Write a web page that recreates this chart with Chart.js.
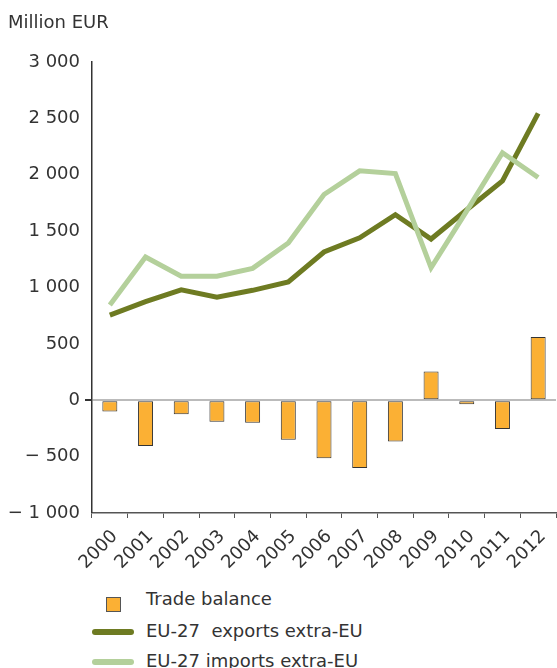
<!DOCTYPE html>
<html>
<head>
<meta charset="utf-8">
<script src="https://cdn.jsdelivr.net/npm/chart.js@4"></script>
<style>
  body { margin: 0; background: #fff; font-family: Verdana, "DejaVu Sans", sans-serif; color: #333; }
  #wrap { position: relative; width: 557px; height: 668px; overflow: hidden; }
  #unit { position: absolute; left: 8px; top: 12px; font-size: 18px; line-height: 20px; }
  .item { position: absolute; left: 146px; font-size: 18px; line-height: 20px; white-space: pre; }
  .swatch { position: absolute; }
</style>
</head>
<body>
<div id="wrap">
  <canvas id="chart" width="557" height="580"></canvas>
  <div id="unit">Million EUR</div>
  <div id="legend"></div>
</div>
<script>
const years = ['2000', '2001', '2002', '2003', '2004', '2005', '2006', '2007', '2008', '2009', '2010', '2011', '2012'];
const tradeBalance = [-100, -405, -125, -190, -200, -350, -515, -600, -365, 255, -35, -255, 560];
const exportsExtraEU = [755, 875, 980, 915, 975, 1050, 1315, 1440, 1645, 1430, 1690, 1945, 2545];
const importsExtraEU = [845, 1270, 1100, 1100, 1170, 1395, 1825, 2035, 2010, 1175, 1680, 2195, 1975];

const labels = ['Trade balance', 'EU-27  exports extra-EU', 'EU-27 imports extra-EU'];
const colors = ['#fbb034', '#6e7b22', '#b4d09b'];
const tickFont = { family: 'Verdana, "DejaVu Sans"', size: 18 };

function fmt(v) {
  const s = Math.abs(v).toString().replace(/\B(?=(\d{3})+(?!\d))/g, ' ');
  return v < 0 ? '\u2212 ' + s : s;
}

new Chart('chart', {
  type: 'bar',
  data: {
    labels: years,
    datasets: [
      {
        type: 'line',
        label: labels[2],
        data: importsExtraEU,
        borderColor: colors[2],
        borderWidth: 5,
        pointRadius: 0,
        tension: 0,
        order: 1
      },
      {
        type: 'line',
        label: labels[1],
        data: exportsExtraEU,
        borderColor: colors[1],
        borderWidth: 5,
        pointRadius: 0,
        tension: 0,
        order: 2
      },
      {
        label: labels[0],
        data: tradeBalance,
        backgroundColor: colors[0],
        borderColor: '#333',
        borderWidth: 1,
        borderSkipped: false,
        barPercentage: 0.42,
        categoryPercentage: 1,
        order: 3
      }
    ]
  },
  options: {
    responsive: false,
    animation: false,
    layout: { padding: { top: 62, right: 1, left: 0, bottom: 0 } },
    plugins: { legend: { display: false }, tooltip: { enabled: false } },
    scales: {
      x: {
        offset: true,
        afterFit: s => { s.height = 67; s.paddingLeft = 0; s.paddingRight = 0; },
        grid: { drawOnChartArea: false, tickColor: '#555', tickLength: 5, offset: true },
        border: { color: '#555', width: 1.5 },
        ticks: { maxRotation: 45, minRotation: 45, autoSkip: false, color: '#333', font: tickFont, padding: 8, labelOffset: 5 }
      },
      y: {
        min: -1000,
        max: 3000,
        afterFit: s => { s.width = 92; },
        ticks: { stepSize: 500, color: '#333', font: tickFont, padding: 5, callback: v => fmt(v) },
        grid: {
          color: ctx => ctx.tick && ctx.tick.value === 0 ? '#bbb' : 'transparent',
          lineWidth: ctx => ctx.tick && ctx.tick.value === 0 ? 2 : 0,
          tickColor: '#333',
          tickLength: 7
        },
        border: { color: '#333', width: 1.5 }
      }
    }
  }
});

// legend, stacked below the chart
document.getElementById('legend').innerHTML =
  '<div class="swatch" style="left:106px;top:597px;width:13px;height:13px;background:' + colors[0] + ';border:1px solid #555"></div>' +
  '<div class="item" style="top:589px">' + labels[0] + '</div>' +
  '<div class="swatch" style="left:92px;top:629px;width:42px;height:6px;border-radius:3px;background:' + colors[1] + '"></div>' +
  '<div class="item" style="top:621px">' + labels[1] + '</div>' +
  '<div class="swatch" style="left:92px;top:659px;width:42px;height:6px;border-radius:3px;background:' + colors[2] + '"></div>' +
  '<div class="item" style="top:651px">' + labels[2] + '</div>';
</script>
</body>
</html>
